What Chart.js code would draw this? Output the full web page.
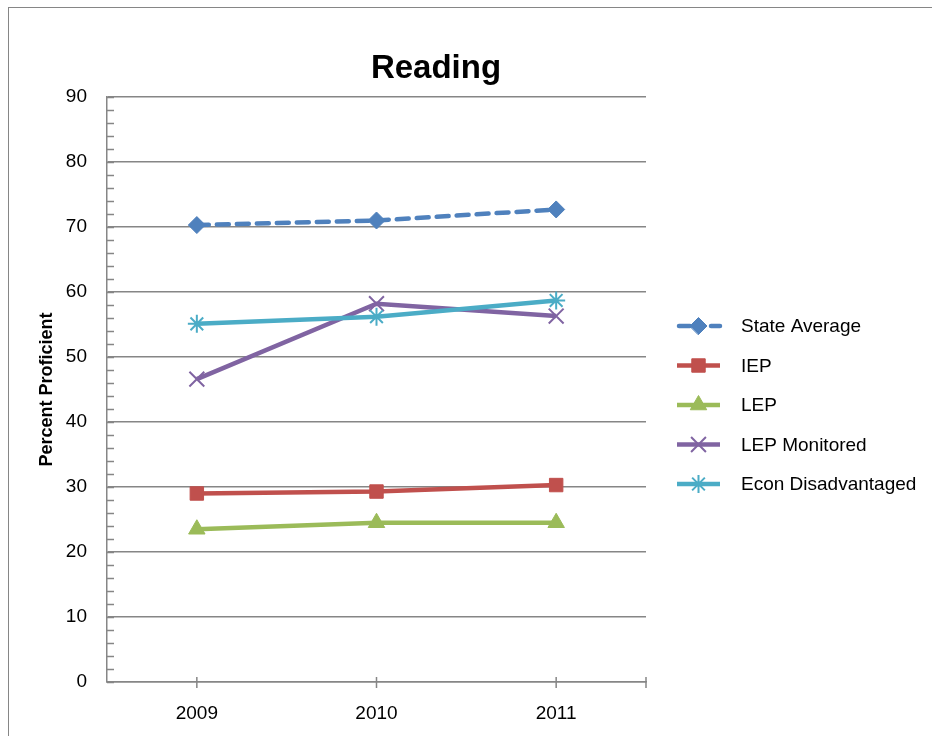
<!DOCTYPE html>
<html>
<head>
<meta charset="utf-8">
<script src="https://cdn.jsdelivr.net/npm/chart.js@4"></script>
<style>
  html, body { margin: 0; padding: 0; background: #fff; }
  canvas { display: block; }
</style>
</head>
<body>
<canvas id="readingChart" width="932" height="736"></canvas>
<script>
// Chart data
const years = ['2009', '2010', '2011'];
const stateAverage = [70.3, 71.0, 72.7];
const iep = [29.0, 29.3, 30.3];
const lep = [23.5, 24.5, 24.5];
const lepMonitored = [46.6, 58.2, 56.3];
const econDisadvantaged = [55.1, 56.2, 58.7];
const yTicks = [0, 10, 20, 30, 40, 50, 60, 70, 80, 90];

const FONT = "'Liberation Sans', Arial, sans-serif";
const AXIS_GREY = '#868686';

// extra drawing: frame, title, axis title, minor ticks, x tick marks, legend
const decorations = {
    id: 'decorations',
    beforeDraw(chart) {
        const ctx = chart.ctx;
        ctx.save();
        ctx.fillStyle = '#fff';
        ctx.fillRect(0, 0, chart.width, chart.height);
        ctx.strokeStyle = AXIS_GREY;
        ctx.lineWidth = 1;
        ctx.strokeRect(8.5, 7.5, 1000, 1000);
        ctx.restore();
    },
    afterDraw(chart) {
        const ctx = chart.ctx;
        const area = chart.chartArea;
        const x = chart.scales.x;
        const y = chart.scales.y;
        ctx.save();

        // title
        ctx.fillStyle = '#000';
        ctx.font = 'bold 33px ' + FONT;
        ctx.textAlign = 'center';
        ctx.textBaseline = 'alphabetic';
        ctx.fillText('Reading', 436, 78);

        // y axis title
        ctx.save();
        ctx.translate(47, (area.top + area.bottom) / 2);
        ctx.rotate(-Math.PI / 2);
        ctx.font = 'bold 18px ' + FONT;
        ctx.textBaseline = 'middle';
        ctx.fillText('Percent Proficient', 0, 0);
        ctx.restore();

        // minor ticks on y axis
        ctx.strokeStyle = AXIS_GREY;
        ctx.lineWidth = 1.5;
        for (let v = y.min; v <= y.max; v += 2) {
            const py = Math.round(y.getPixelForValue(v)) + 0.5;
            ctx.beginPath();
            ctx.moveTo(area.left, py);
            ctx.lineTo(area.left + 7, py);
            ctx.stroke();
        }

        // x tick marks (category centres + right end)
        const xs = years.map((_, i) => x.getPixelForTick(i));
        xs.push(area.right);
        xs.forEach(px => {
            ctx.beginPath();
            ctx.moveTo(px, area.bottom - 5);
            ctx.lineTo(px, area.bottom + 6);
            ctx.stroke();
        });

        // legend
        const lx = 677, lw = 43, tx = 741;
        let ly = 326;
        chart.data.datasets.forEach(ds => {
            ctx.save();
            ctx.strokeStyle = ds.borderColor;
            ctx.lineWidth = ds.borderWidth;
            ctx.lineCap = ds.borderCapStyle || 'butt';
            // dashed series: one dash each side of the marker
            ctx.setLineDash(ds.borderDash ? [11, 21] : []);
            ctx.beginPath();
            ctx.moveTo(lx + (ds.borderDash ? 2 : 0), ly);
            ctx.lineTo(lx + lw, ly);
            ctx.stroke();
            ctx.setLineDash([]);
            ctx.fillStyle = ds.pointBackgroundColor;
            ctx.strokeStyle = ds.pointBorderColor;
            ctx.lineWidth = ds.pointBorderWidth;
            Chart.helpers.drawPoint(ctx, {
                pointStyle: ds.pointStyle,
                radius: ds.pointRadius,
                rotation: 0,
                borderWidth: ds.pointBorderWidth
            }, lx + lw / 2, ly);
            ctx.restore();
            ctx.fillStyle = '#000';
            ctx.font = '19px ' + FONT;
            ctx.textAlign = 'left';
            ctx.textBaseline = 'middle';
            ctx.fillText(ds.label, tx, ly + 1);
            ly += 39.5;
        });
        ctx.restore();
    }
};

function series(label, data, color, style, radius, extra) {
    return Object.assign({
        label: label,
        data: data,
        borderColor: color,
        backgroundColor: color,
        borderWidth: 4.5,
        tension: 0,
        pointStyle: style,
        pointRadius: radius,
        pointHoverRadius: radius,
        pointBackgroundColor: color,
        pointBorderColor: color,
        pointBorderWidth: 1
    }, extra || {});
}

const datasets = [
    series('State Average', stateAverage, '#4F81BD', 'rectRot', 8.5,
        { borderDash: [12, 8], borderCapStyle: 'round', order: 4 }),
    series('IEP', iep, '#C0504D', 'rect', 9.5, { order: 3 }),
    series('LEP', lep, '#9BBB59', 'triangle', 9.5, { order: 2 }),
    series('LEP Monitored', lepMonitored, '#8064A2', 'crossRot', 10.5,
        { pointBorderWidth: 2, order: 1 }),
    series('Econ Disadvantaged', econDisadvantaged, '#4BACC6', 'star', 9,
        { pointBorderWidth: 2, order: 0 })
];

new Chart(document.getElementById('readingChart'), {
    type: 'line',
    data: { labels: years, datasets: datasets },
    options: {
        responsive: false,
        animation: false,
        devicePixelRatio: 1,
        layout: { padding: { top: 97, right: 286, bottom: 0, left: 0 } },
        plugins: {
            legend: { display: false },
            title: { display: false },
            tooltip: { enabled: false }
        },
        scales: {
            x: {
                type: 'category',
                offset: true,
                grid: { display: false },
                border: { display: true, color: AXIS_GREY, width: 1.5 },
                ticks: { color: '#000', font: { family: FONT, size: 19 }, padding: 12 },
                afterFit(scale) { scale.height = 54; }
            },
            y: {
                min: 0,
                max: 90,
                afterBuildTicks(scale) { scale.ticks = yTicks.map(v => ({ value: v })); },
                grid: { color: AXIS_GREY, lineWidth: 1.5, drawTicks: false },
                border: { display: true, color: AXIS_GREY, width: 1.5 },
                ticks: { color: '#000', font: { family: FONT, size: 19 }, padding: 20 },
                afterFit(scale) { scale.width = 107; }
            }
        }
    },
    plugins: [decorations]
});
</script>
</body>
</html>
